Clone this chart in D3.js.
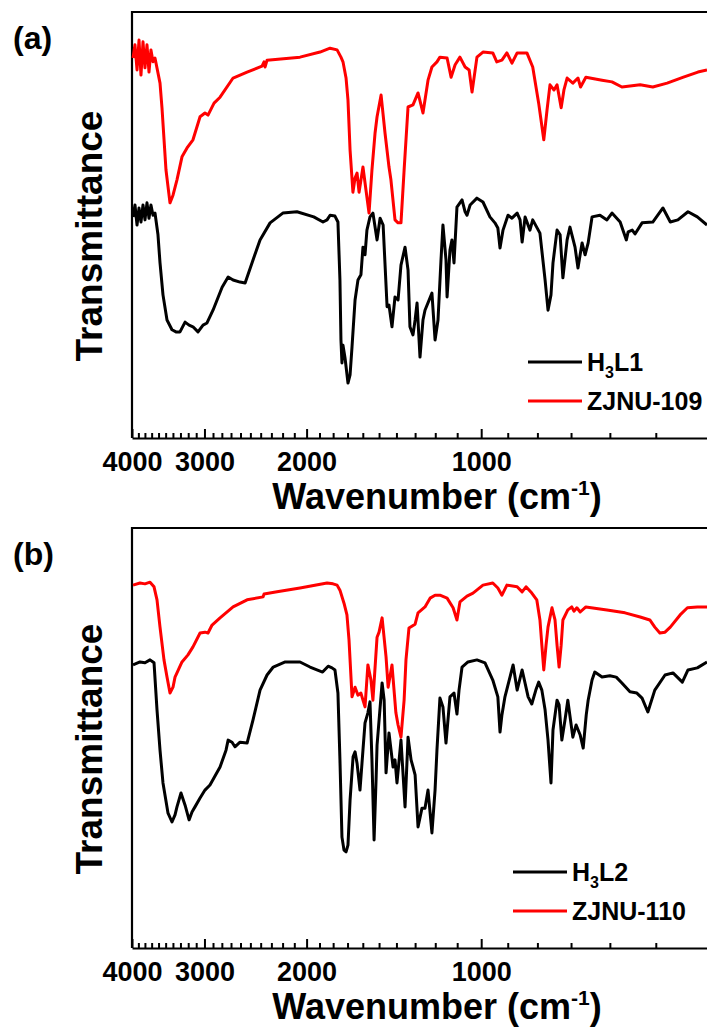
<!DOCTYPE html>
<html>
<head>
<meta charset="utf-8">
<script src="https://cdn.jsdelivr.net/npm/d3@7"></script>
<style>
  body { margin: 0; background: #fff; }
  text { font-family: "Liberation Sans", Arial, sans-serif; font-weight: bold; fill: #000; }
</style>
</head>
<body>
<svg id="chart"></svg>
<script>
// spectra: [wavenumber (cm-1), transmittance (a.u.)]
const h3l1 = [[3984,51.9],[3953,54.7],[3921,50.0],[3890,54.0],[3860,50.7],[3829,54.7],[3799,51.2],[3769,55.2],[3739,51.6],[3710,54.7],[3680,52.3],[3651,52.8],[3608,47.7],[3579,41.1],[3537,33.6],[3481,27.7],[3413,25.4],[3359,24.9],[3306,24.9],[3240,27.2],[3189,26.5],[3140,26.1],[3078,24.9],[3017,26.5],[2970,27.0],[2900,30.0],[2797,35.4],[2731,37.8],[2678,37.1],[2605,36.6],[2553,36.4],[2474,41.8],[2406,46.5],[2312,50.5],[2198,52.8],[2078,53.1],[1944,51.9],[1874,50.7],[1844,51.2],[1822,52.3],[1787,52.1],[1766,50.7],[1752,37.1],[1745,23.0],[1738,17.6],[1731,21.8],[1717,18.8],[1697,12.9],[1683,14.8],[1670,21.4],[1650,32.4],[1631,37.1],[1612,38.3],[1599,44.8],[1586,43.0],[1574,48.8],[1555,51.9],[1537,52.8],[1512,46.5],[1494,51.6],[1476,50.0],[1453,30.8],[1442,31.2],[1425,26.1],[1408,33.1],[1391,32.4],[1375,40.6],[1353,44.8],[1337,39.4],[1327,26.1],[1311,24.2],[1300,27.7],[1290,31.7],[1275,19.0],[1260,27.7],[1250,30.0],[1216,34.0],[1201,23.0],[1187,27.7],[1173,41.8],[1164,50.0],[1150,41.8],[1145,33.1],[1132,44.1],[1123,46.5],[1114,41.1],[1101,54.2],[1079,55.9],[1066,53.1],[1058,52.3],[1045,54.7],[1017,56.3],[993,55.4],[966,51.9],[947,50.5],[936,49.3],[928,44.6],[917,48.8],[899,52.3],[885,51.6],[867,52.8],[857,51.2],[850,46.0],[840,51.9],[824,48.8],[815,51.2],[792,48.1],[776,37.1],[767,30.0],[758,33.6],[752,41.1],[740,48.8],[731,47.7],[723,37.6],[711,46.5],[703,49.5],[689,44.8],[681,39.9],[670,45.8],[662,43.0],[654,45.8],[644,51.9],[624,52.3],[607,51.2],[595,52.8],[576,50.7],[562,46.5],[558,48.4],[549,48.8],[543,47.9],[528,50.5],[506,50.7],[486,54.0],[472,50.7],[458,51.2],[440,53.1],[424,51.9],[408,50.0]];

const zjnu109 = [[3984,89.2],[3953,92.3],[3921,86.4],[3890,93.4],[3860,85.2],[3829,93.0],[3799,86.9],[3769,92.3],[3739,85.9],[3710,91.1],[3680,88.3],[3651,89.2],[3579,83.3],[3551,77.5],[3495,62.9],[3440,55.2],[3399,57.0],[3346,60.6],[3280,66.0],[3215,68.1],[3140,70.0],[3053,75.4],[2994,76.3],[2958,75.8],[2888,78.6],[2820,80.0],[2678,84.5],[2533,85.9],[2387,87.3],[2368,88.3],[2358,87.1],[2340,88.7],[2053,89.4],[1896,90.6],[1822,91.5],[1772,91.1],[1745,89.4],[1731,88.3],[1710,84.5],[1697,79.3],[1683,67.6],[1664,57.7],[1650,61.0],[1637,62.2],[1624,57.7],[1599,63.6],[1580,58.2],[1561,52.8],[1543,62.9],[1524,71.6],[1512,75.4],[1488,80.5],[1465,71.6],[1442,63.6],[1431,60.6],[1408,51.2],[1391,50.5],[1375,50.5],[1358,62.9],[1337,77.7],[1311,78.2],[1285,81.0],[1260,76.3],[1235,84.0],[1216,87.1],[1192,88.3],[1178,89.4],[1145,89.2],[1127,84.7],[1109,87.6],[1088,89.4],[1066,87.1],[1049,86.4],[1037,81.2],[1017,89.4],[993,90.6],[955,90.4],[940,88.3],[921,88.7],[903,90.4],[885,88.0],[867,90.4],[834,90.4],[815,87.1],[796,78.6],[780,70.0],[770,77.0],[761,82.9],[749,81.7],[740,82.9],[728,77.5],[720,81.7],[711,84.5],[695,83.3],[681,84.5],[674,82.4],[660,84.7],[619,84.0],[595,83.6],[572,82.4],[532,82.9],[506,82.4],[478,83.3],[448,84.7],[423,85.9],[408,86.4]];

const h3l2 = [[3984,67.4],[3875,68.1],[3799,67.9],[3724,68.6],[3665,67.9],[3622,56.7],[3579,47.1],[3537,39.3],[3467,32.1],[3413,30.0],[3372,31.7],[3346,33.6],[3293,36.9],[3240,34.0],[3189,30.5],[3152,32.4],[3115,33.6],[3053,35.7],[2994,37.6],[2935,38.8],[2820,43.1],[2754,47.1],[2731,49.5],[2689,49.0],[2658,47.9],[2605,49.0],[2533,48.8],[2474,54.3],[2406,61.4],[2340,65.0],[2283,66.9],[2177,68.1],[2053,68.1],[1973,66.9],[1877,65.7],[1836,67.1],[1808,66.7],[1787,66.2],[1766,60.7],[1752,44.8],[1738,26.4],[1724,23.3],[1710,22.9],[1697,24.5],[1683,35.2],[1663,45.5],[1650,46.7],[1637,44.0],[1618,37.6],[1599,47.1],[1586,53.6],[1568,56.0],[1555,58.6],[1543,44.8],[1530,25.7],[1518,40.0],[1512,48.3],[1482,63.1],[1470,59.0],[1459,41.7],[1442,51.2],[1419,43.1],[1408,44.8],[1397,39.3],[1375,49.5],[1353,33.6],[1337,50.2],[1321,44.8],[1311,43.1],[1300,41.2],[1285,28.8],[1265,33.3],[1250,33.3],[1235,37.6],[1216,27.4],[1201,37.6],[1192,47.1],[1178,59.5],[1164,57.4],[1150,48.8],[1132,59.8],[1114,60.7],[1101,55.7],[1092,61.4],[1079,66.9],[1054,68.1],[1017,68.6],[985,67.9],[955,63.8],[936,59.8],[928,51.4],[921,55.5],[910,59.8],[881,67.4],[867,61.4],[850,66.2],[830,59.8],[818,58.1],[805,61.4],[796,63.3],[786,61.4],[776,56.7],[767,49.5],[758,39.3],[752,51.9],[740,59.0],[734,57.9],[726,49.5],[717,54.3],[709,59.0],[695,50.2],[686,53.1],[675,50.7],[667,47.6],[659,55.5],[654,59.0],[644,63.8],[637,65.7],[619,64.5],[600,64.8],[585,64.5],[572,63.1],[554,61.0],[539,60.7],[528,59.5],[516,56.2],[502,61.4],[482,65.0],[467,65.5],[450,63.3],[440,66.2],[424,66.7],[408,68.1]];

const zjnu110 = [[3984,86.4],[3875,86.9],[3799,86.7],[3724,87.1],[3665,86.0],[3622,82.9],[3579,76.4],[3523,68.6],[3481,64.5],[3440,60.7],[3399,62.1],[3372,64.5],[3280,68.1],[3203,69.8],[3140,71.7],[3053,75.0],[2994,75.2],[2958,75.0],[2911,76.9],[2820,78.6],[2678,81.2],[2533,82.9],[2377,83.6],[2368,84.3],[2249,84.8],[2053,85.7],[1844,86.9],[1801,86.7],[1772,86.4],[1752,85.2],[1724,82.1],[1704,79.3],[1690,73.3],[1670,59.8],[1650,62.1],[1631,60.2],[1612,60.7],[1599,59.0],[1586,57.4],[1568,67.4],[1549,63.8],[1537,59.0],[1512,74.0],[1500,75.2],[1482,78.6],[1459,69.3],[1447,62.1],[1425,67.4],[1403,56.0],[1391,53.1],[1375,50.2],[1358,59.0],[1348,68.6],[1332,76.2],[1300,77.1],[1285,79.8],[1250,81.2],[1225,83.3],[1201,84.0],[1178,84.0],[1145,83.3],[1118,81.0],[1101,78.1],[1088,82.4],[1058,83.8],[1033,84.5],[993,86.4],[955,86.9],[936,85.7],[921,84.0],[903,86.4],[867,86.0],[850,84.8],[837,86.0],[818,84.5],[802,82.9],[792,78.1],[786,72.1],[780,66.2],[773,72.1],[767,76.4],[755,81.0],[746,78.1],[740,72.1],[734,66.9],[728,72.1],[723,78.1],[709,80.5],[698,81.2],[692,80.2],[684,81.0],[675,80.0],[660,81.2],[607,80.5],[565,79.8],[532,78.8],[512,78.1],[502,76.4],[492,75.0],[482,75.2],[472,76.4],[454,79.3],[441,81.0],[424,81.2],[408,81.2]];

const majorTicks = [4000, 3000, 2000, 1000];
const minorTicks = d3.range(400, 4000, 100).filter(d => !majorTicks.includes(d));
const seriesNames = [["H₃L1", "ZJNU-109"], ["H₃L2", "ZJNU-110"]];
const panelLabels = ["(a)", "(b)"];
const colors = ["#000000", "#ff0000"];

const width = 707, height = 1032;
const left = 132, right = 712;

const svg = d3.select("#chart").attr("width", width).attr("height", height);

const x = d3.scaleLog().domain([4000, 400]).range([left, right]);

const panels = [
    {top: 12, bottom: 438, data: [h3l1, zjnu109], legendX: 528, legendY: 362},
    {top: 528, bottom: 948, data: [h3l2, zjnu110], legendX: 513, legendY: 872}
];

panels.forEach((p, i) => {
    const y = d3.scaleLinear().domain([0, 100]).range([p.bottom, p.top]);
    const g = svg.append("g");

    // frame: top and left lines
    g.append("line")
        .attr("x1", left).attr("x2", width)
        .attr("y1", p.top).attr("y2", p.top)
        .attr("stroke", "#000").attr("stroke-width", 2.2);
    g.append("line")
        .attr("x1", left).attr("x2", left)
        .attr("y1", p.top - 1).attr("y2", p.bottom)
        .attr("stroke", "#000").attr("stroke-width", 2.2);

    // minor ticks
    g.append("g")
        .attr("transform", `translate(0,${p.bottom})`)
        .call(d3.axisBottom(x).tickValues(minorTicks).tickSize(-5).tickSizeOuter(0).tickFormat(""))
        .call(a => a.select(".domain").remove())
        .selectAll("line").attr("stroke-width", 2);

    // major ticks + labels
    const ax = g.append("g")
        .attr("transform", `translate(0,${p.bottom})`)
        .call(d3.axisBottom(x).tickValues(majorTicks).tickSize(-9).tickSizeOuter(0).tickFormat(d3.format("d")));
    ax.select(".domain").attr("stroke-width", 2.2);
    ax.selectAll("line").attr("stroke-width", 2);
    ax.selectAll("text")
        .attr("y", 33).attr("dy", null)
        .style("font-size", "27px");

    // spectra
    const line = d3.line()
        .x(d => x(d[0]))
        .y(d => y(d[1]));
    p.data.forEach((s, j) => {
        g.append("path")
            .datum(s)
            .attr("d", line)
            .attr("fill", "none")
            .attr("stroke", colors[j])
            .attr("stroke-width", 3)
            .attr("stroke-linejoin", "round");
    });

    // axis titles
    g.append("text")
        .attr("transform", `translate(102,${(p.top + p.bottom) / 2 + 11}) rotate(-90)`)
        .attr("text-anchor", "middle")
        .style("font-size", "37px")
        .text("Transmittance");

    const xt = g.append("text")
        .attr("x", 437).attr("y", p.bottom + 71)
        .attr("text-anchor", "middle")
        .style("font-size", "36px");
    xt.append("tspan").text("Wavenumber (cm");
    xt.append("tspan").attr("dy", -14).style("font-size", "21px").text("-1");
    xt.append("tspan").attr("dy", 14).text(")");

    // panel label
    g.append("text")
        .attr("x", 13).attr("y", p.top + 37)
        .style("font-size", "32px")
        .text(panelLabels[i]);

    // legend
    seriesNames[i].forEach((name, j) => {
        const ly = p.legendY + j * 39;
        g.append("line")
            .attr("x1", p.legendX).attr("x2", p.legendX + 54)
            .attr("y1", ly).attr("y2", ly)
            .attr("stroke", colors[j]).attr("stroke-width", 3);
        const t = g.append("text")
            .attr("x", p.legendX + 59).attr("y", ly + 9)
            .style("font-size", "25px");
        if (name.includes("₃")) {
            const parts = name.split("₃");
            t.append("tspan").text(parts[0]);
            t.append("tspan").attr("dy", 7).style("font-size", "16px").text("3");
            t.append("tspan").attr("dy", -7).text(parts[1]);
        } else {
            t.text(name);
        }
    });
});
</script>
</body>
</html>
